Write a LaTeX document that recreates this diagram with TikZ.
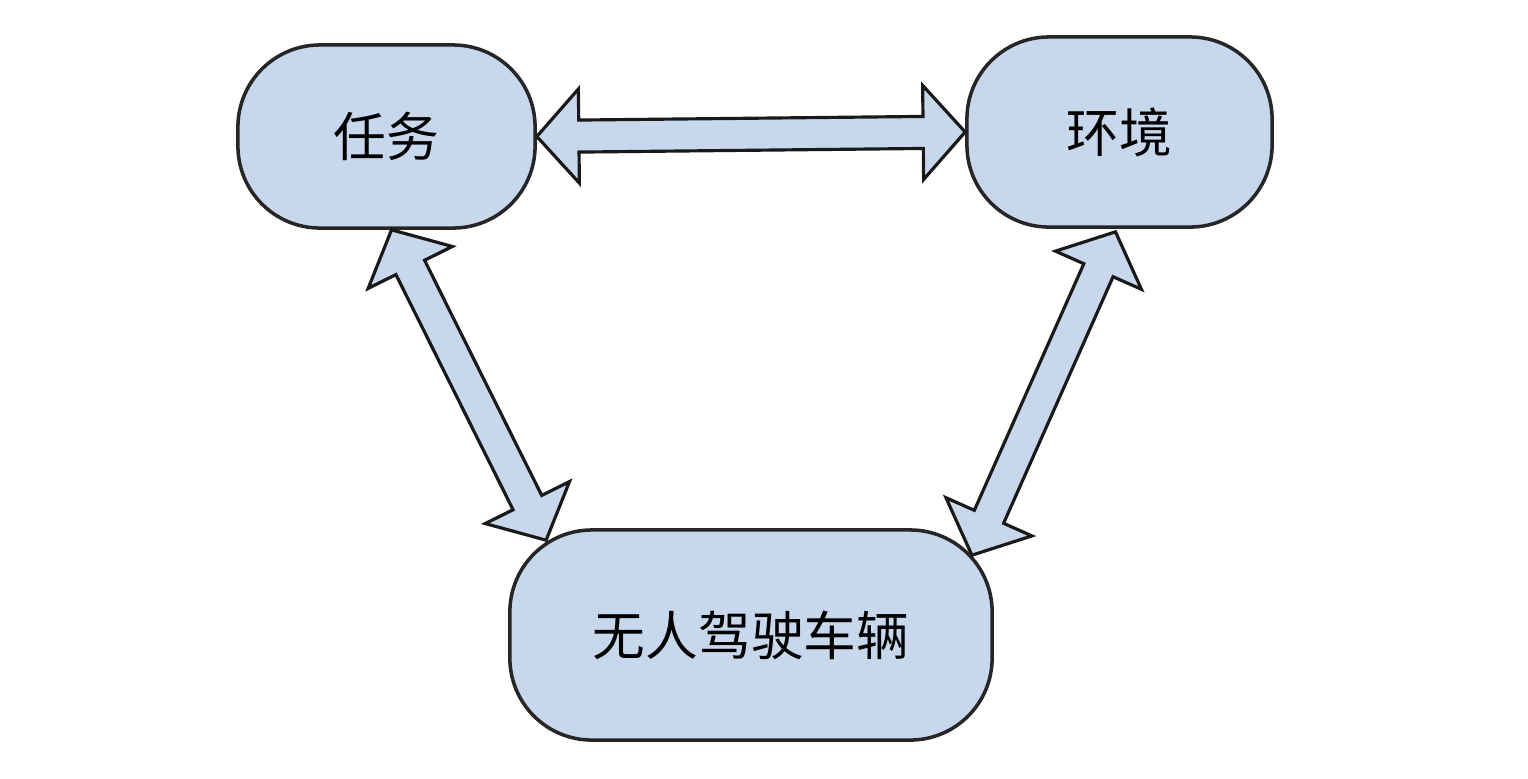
\documentclass[tikz,border=0pt]{standalone}
\usepackage{fontspec}
\newfontfamily\cjk{Noto Sans CJK SC}
\usetikzlibrary{calc,positioning}

\definecolor{boxblue}{RGB}{199,215,236}

% fat double arrow between two points
\newcommand\fatarrow[2]{%
\coordinate (h1) at ($(#1)!0.42cm!(#2)$);
\coordinate (h2) at ($(#2)!0.42cm!(#1)$);
\draw[fat] (#1) -- ($(h1)!0.47cm!90:(#2)$) -- ($(h1)!0.16cm!90:(#2)$)
  -- ($(h2)!0.16cm!-90:(#1)$) -- ($(h2)!0.47cm!-90:(#1)$) -- (#2)
  -- ($(h2)!0.47cm!90:(#1)$) -- ($(h2)!0.16cm!90:(#1)$)
  -- ($(h1)!0.16cm!-90:(#2)$) -- ($(h1)!0.47cm!-90:(#2)$) -- cycle;}

\begin{document}
\begin{tikzpicture}[x=0.01cm, y=-0.01cm,
  box/.style = {draw = black!85, fill = boxblue, line width = 1pt, shape = rectangle,
    rounded corners = 0.82cm, font = \cjk\fontsize{15}{18}\selectfont},
  fat/.style = {draw = black!90, fill = boxblue, line width = 0.9pt, line join = miter}]
\useasboundingbox (0,0) rectangle (1528,778);

\node[box, minimum width = 2.97cm, minimum height = 1.83cm] (task) at (386.5,136.5) {任务};
\node[box, minimum width = 3.05cm, minimum height = 1.90cm] (env) at (1119.5,132) {环境};
\node[box, minimum width = 4.82cm, minimum height = 2.10cm] (car) at (751,635) {无人驾驶车辆};

\coordinate (t1) at ([xshift=0.05cm]task.south);
\coordinate (c1) at ([xshift=0.38cm,yshift=-0.12cm]car.north west);
\coordinate (e1) at ([xshift=-0.04cm,yshift=-0.03cm]env.south);
\coordinate (c2) at ([xshift=-0.22cm,yshift=-0.27cm]car.north east);

\fatarrow{task.east}{env.west}
\fatarrow{t1}{c1}
\fatarrow{e1}{c2}
\end{tikzpicture}
\end{document}
